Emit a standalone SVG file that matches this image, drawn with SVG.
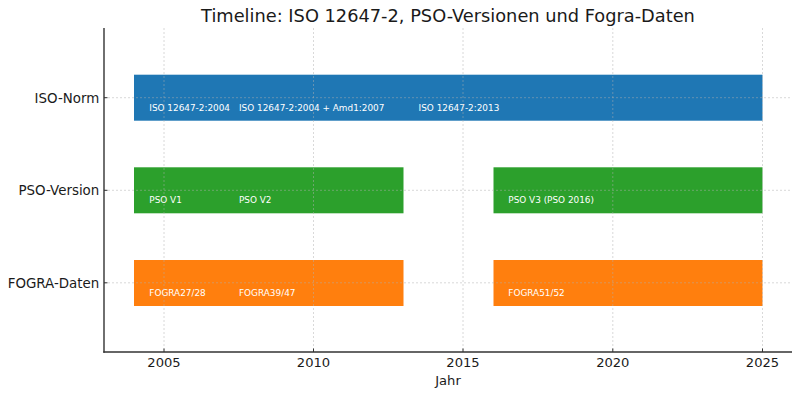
<svg xmlns="http://www.w3.org/2000/svg" width="800" height="396" viewBox="0 0 800 396">
<style>
text{font-family:"DejaVu Sans","Liberation Sans",sans-serif;fill:#1a1a1a}
.bt{font-size:8.9px;fill:#ffffff}
.tk{font-size:13.1px}
.yl{font-size:13.4px;text-anchor:end}
.xl{font-size:13.1px;text-anchor:middle}
.grid line{stroke:#b0b0b0;stroke-width:0.8;stroke-dasharray:2,2;opacity:0.6}
.spine{stroke:#333;stroke-width:1.4}
.tick{stroke:#333;stroke-width:1}
</style>
<rect width="800" height="396" fill="#ffffff"/>
<text x="448" y="22" style="font-size:17.8px" text-anchor="middle">Timeline: ISO 12647-2, PSO-Versionen und Fogra-Daten</text>
<g id="iso-norm">
<rect x="134" y="74.7" width="628.5" height="46" fill="#1f77b4"/>
<text class="bt" x="149.3" y="110.7">ISO 12647-2:2004</text>
<text class="bt" x="239" y="110.7">ISO 12647-2:2004 + Amd1:2007</text>
<text class="bt" x="418.6" y="110.7">ISO 12647-2:2013</text>
</g>
<g id="pso-version">
<rect x="134" y="167.3" width="269.5" height="46" fill="#2ca02c"/>
<rect x="493.5" y="167.3" width="269" height="46" fill="#2ca02c"/>
<text class="bt" x="149.3" y="203.3">PSO V1</text>
<text class="bt" x="239" y="203.3">PSO V2</text>
<text class="bt" x="508.3" y="203.3">PSO V3 (PSO 2016)</text>
</g>
<g id="fogra-daten">
<rect x="134" y="260" width="269.5" height="46" fill="#ff7f0e"/>
<rect x="493.5" y="260" width="269" height="46" fill="#ff7f0e"/>
<text class="bt" x="149.3" y="296">FOGRA27/28</text>
<text class="bt" x="239" y="296">FOGRA39/47</text>
<text class="bt" x="508.3" y="296">FOGRA51/52</text>
</g>
<g class="grid">
<line x1="164" y1="28" x2="164" y2="352"/>
<line x1="313.5" y1="28" x2="313.5" y2="352"/>
<line x1="463" y1="28" x2="463" y2="352"/>
<line x1="612.8" y1="28" x2="612.8" y2="352"/>
<line x1="762.5" y1="28" x2="762.5" y2="352"/>
<line x1="104" y1="97.7" x2="792" y2="97.7"/>
<line x1="104" y1="190.3" x2="792" y2="190.3"/>
<line x1="104" y1="282.8" x2="792" y2="282.8"/>
</g>
<g id="axes">
<line class="spine" x1="104" y1="28" x2="104" y2="352.7"/>
<line class="spine" x1="103.3" y1="352" x2="792" y2="352"/>
<line class="tick" x1="164" y1="352" x2="164" y2="348.5"/>
<line class="tick" x1="313.5" y1="352" x2="313.5" y2="348.5"/>
<line class="tick" x1="463" y1="352" x2="463" y2="348.5"/>
<line class="tick" x1="612.8" y1="352" x2="612.8" y2="348.5"/>
<line class="tick" x1="762.5" y1="352" x2="762.5" y2="348.5"/>
<line class="tick" x1="104" y1="97.7" x2="107.5" y2="97.7"/>
<line class="tick" x1="104" y1="190.3" x2="107.5" y2="190.3"/>
<line class="tick" x1="104" y1="282.8" x2="107.5" y2="282.8"/>
<text class="xl tk" x="164" y="367.3">2005</text>
<text class="xl tk" x="313.5" y="367.3">2010</text>
<text class="xl tk" x="463" y="367.3">2015</text>
<text class="xl tk" x="612.8" y="367.3">2020</text>
<text class="xl tk" x="762.5" y="367.3">2025</text>
<text class="yl" x="99.3" y="102.6">ISO-Norm</text>
<text class="yl" x="99.3" y="195.2">PSO-Version</text>
<text class="yl" x="99.3" y="287.7">FOGRA-Daten</text>
<text class="xl" x="448" y="384.5">Jahr</text>
</g>
</svg>
